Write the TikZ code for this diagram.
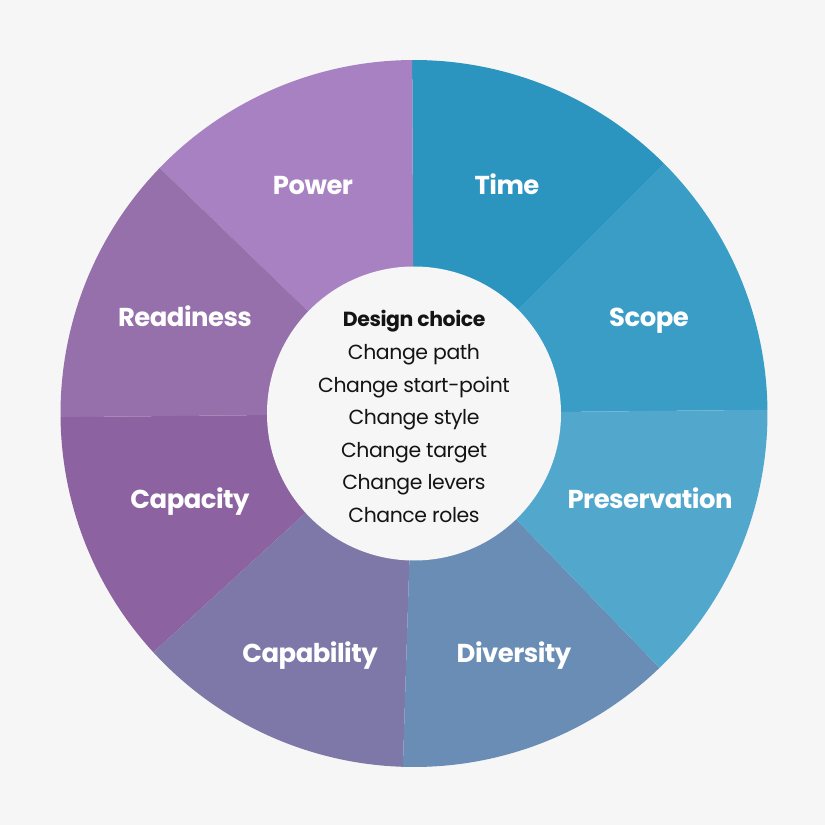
\documentclass[tikz,border=0pt]{standalone}
\usepackage{fontspec}
\setmainfont{Poppins}[LetterSpace=-2]
\definecolor{bgcol}{HTML}{F6F6F6}
\definecolor{timecol}{HTML}{2C95BF}
\definecolor{scopecol}{HTML}{3A9DC6}
\definecolor{prescol}{HTML}{52A7CD}
\definecolor{divcol}{HTML}{6A8DB6}
\definecolor{capabcol}{HTML}{7E78A9}
\definecolor{capaccol}{HTML}{8C62A0}
\definecolor{readycol}{HTML}{9570AB}
\definecolor{powercol}{HTML}{A881C3}
\tikzset{
  seglabel/.style={anchor=base, text=white, font=\fontsize{26}{26}\selectfont\bfseries},
  core/.style={align=center, text=black!92, font=\fontsize{20.5}{32.7}\selectfont}
}
\begin{document}
\begin{tikzpicture}[x=1bp,y=1bp]
\useasboundingbox[fill=bgcol] (-414,-411.5) rectangle (411,413.5);
\coordinate (O) at (0,0);
% Wheel
\def\R{353.5}
\foreach \a/\b/\c in {0.6/45/scopecol, 45/90.3/timecol, 90.3/136/powercol,
  136/180.6/readycol, 180.6/222.5/capaccol, 222.5/268.2/capabcol,
  268.2/314/divcol, 314/360.6/prescol}
  \fill[\c] (O) -- (\a:\R) arc[start angle=\a, end angle=\b, radius=\R] -- cycle;
% Hub
\fill[bgcol] (O) circle[radius=147];
\node[core] (hub) at (0,-3) {\textbf{Design choice}\\Change path\\Change start-point\\Change style\\Change target\\Change levers\\Chance roles};
% Segment labels
\node[seglabel] (power) at (-101,218.5) {Power};
\node[seglabel] (time) at (93,218.5) {Time};
\node[seglabel] (scope) at (235,86.5) {Scope};
\node[seglabel] (readiness) at (-229,86.5) {Readiness};
\node[seglabel] (capacity) at (-224,-94.5) {Capacity};
\node[seglabel] (preservation) at (236,-94.5) {Preservation};
\node[seglabel] (capability) at (-104,-248.5) {Capability};
\node[seglabel] (diversity) at (100,-248.5) {Diversity};
\end{tikzpicture}
\end{document}
